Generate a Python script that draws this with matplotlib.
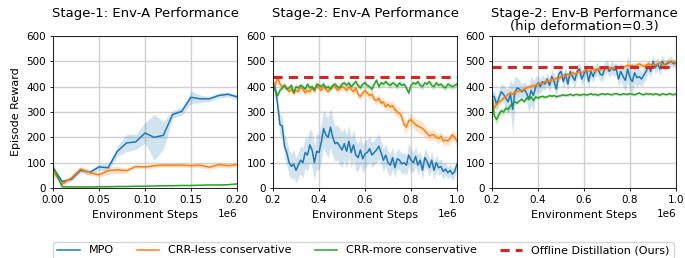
import numpy as np
import matplotlib
matplotlib.use("Agg")
import matplotlib.pyplot as plt
from matplotlib.lines import Line2D

# ---------------- data ----------------
steps_stage1 = [i * 0.01e6 for i in range(21)]
steps_stage2 = [0.2e6 + i * 0.01e6 for i in range(81)]

s1_mpo = [80, 25, 35, 70, 62, 83, 80, 145, 178, 182, 217, 200, 208, 290, 303, 358, 352, 352, 365, 370, 360]
s1_mpo_sd = [10, 10, 8, 10, 10, 12, 15, 20, 35, 30, 40, 90, 55, 15, 15, 25, 15, 10, 10, 10, 10]
s1_less = [65, 15, 40, 75, 60, 52, 68, 72, 68, 85, 83, 88, 90, 90, 90, 88, 90, 82, 92, 88, 92]
s1_less_sd = [20, 10, 10, 12, 10, 10, 15, 15, 10, 8, 8, 8, 8, 8, 8, 8, 10, 10, 10, 10, 8]
s1_more = [85, 5, 4, 4, 4, 5, 5, 6, 6, 7, 7, 8, 9, 9, 10, 10, 11, 12, 12, 13, 16]
s1_more_sd = [3, 2, 1, 1, 1, 1, 1, 1, 1, 1, 1, 1, 1, 1, 1, 1, 1, 1, 1, 1, 2]

a_mpo = [420, 390, 330, 250, 245, 165, 140, 100, 85, 95,
         70, 90, 110, 100, 140, 130, 170, 150, 100, 145,
         140, 180, 235, 210, 200, 240, 200, 175, 180, 165,
         150, 175, 145, 185, 140, 170, 130, 120, 150, 115,
         135, 140, 155, 130, 140, 150, 165, 140, 110, 130,
         100, 90, 120, 80, 115, 110, 95, 100, 90, 130,
         110, 100, 125, 90, 110, 70, 120, 105, 80, 110,
         70, 100, 80, 85, 65, 75, 60, 70, 55, 65,
         95]
a_mpo_sd = [10, 20, 30, 40, 40, 45, 50, 50, 50, 55,
            50, 50, 55, 60, 60, 65, 65, 70, 70, 70,
            70, 75, 75, 75, 80, 80, 75, 70, 70, 70,
            70, 65, 65, 65, 60, 60, 60, 55, 55, 55,
            55, 50, 50, 50, 50, 50, 50, 45, 45, 45,
            45, 45, 45, 40, 40, 40, 40, 40, 40, 45,
            45, 40, 40, 40, 35, 35, 35, 35, 35, 35,
            35, 30, 30, 30, 30, 25, 25, 25, 25, 20,
            20]
a_less = [420, 405, 440, 410, 400, 405, 395, 380, 390, 375,
          385, 380, 400, 390, 375, 385, 380, 395, 385, 405,
          395, 385, 400, 390, 380, 395, 405, 400, 385, 395,
          400, 395, 385, 400, 390, 380, 395, 370, 360, 375,
          385, 375, 365, 370, 350, 345, 355, 335, 340, 320,
          330, 320, 325, 310, 300, 295, 280, 250, 240, 265,
          270, 260, 250, 245, 240, 235, 225, 215, 205, 210,
          210, 200, 195, 205, 185, 190, 185, 195, 210, 200,
          185]
a_less_sd = [10, 12, 12, 12, 12, 12, 12, 12, 12, 12,
             12, 12, 12, 12, 12, 12, 12, 12, 12, 12,
             12, 12, 12, 12, 12, 12, 12, 12, 12, 12,
             14, 14, 14, 14, 14, 14, 15, 15, 15, 15,
             15, 15, 15, 15, 18, 18, 18, 18, 18, 18,
             20, 20, 20, 20, 20, 22, 22, 25, 25, 25,
             25, 25, 25, 25, 25, 25, 22, 22, 22, 22,
             20, 20, 20, 20, 20, 20, 20, 20, 20, 20,
             20]
a_more = [400, 385, 365, 385, 395, 405, 390, 395, 405, 375,
          400, 395, 405, 400, 390, 410, 395, 400, 385, 410,
          405, 400, 410, 395, 400, 390, 405, 410, 400, 395,
          410, 415, 405, 415, 400, 410, 420, 405, 395, 410,
          415, 405, 400, 390, 410, 425, 400, 415, 410, 420,
          410, 405, 415, 410, 400, 415, 405, 410, 395, 375,
          405, 415, 410, 420, 405, 400, 415, 410, 420, 405,
          400, 415, 405, 410, 400, 395, 410, 405, 400, 405,
          410]
a_more_sd = [12] * 81
a_offline = 438

b_mpo = [365, 360, 330, 355, 380, 370, 355, 340, 370, 310,
         380, 395, 390, 380, 390, 375, 350, 385, 365, 400,
         415, 400, 420, 410, 430, 405, 440, 420, 390, 450,
         460, 420, 450, 410, 460, 440, 425, 460, 470, 430,
         450, 470, 420, 460, 440, 465, 470, 450, 445, 470,
         480, 460, 475, 465, 470, 430, 460, 440, 425, 470,
         435, 420, 455, 435, 440, 430, 445, 460, 480, 460,
         500, 475, 490, 470, 500, 485, 490, 495, 500, 490,
         495]
b_mpo_sd = [15, 25, 30, 30, 30, 35, 40, 50, 60, 100,
            60, 40, 35, 30, 30, 35, 50, 60, 60, 40,
            30, 30, 30, 25, 25, 30, 30, 30, 35, 30,
            25, 30, 30, 30, 25, 25, 30, 25, 25, 30,
            25, 25, 30, 25, 25, 25, 25, 25, 25, 25,
            25, 25, 25, 25, 25, 30, 35, 40, 45, 50,
            50, 45, 40, 35, 30, 30, 30, 30, 25, 25,
            25, 25, 25, 25, 25, 20, 20, 20, 20, 15,
            15]
b_less = [370, 315, 330, 340, 345, 355, 360, 370, 375, 370,
          380, 380, 385, 385, 390, 395, 400, 400, 405, 405,
          410, 415, 410, 420, 425, 420, 430, 425, 435, 430,
          440, 445, 440, 450, 445, 455, 450, 455, 460, 455,
          460, 465, 460, 465, 470, 460, 470, 465, 470, 475,
          470, 475, 470, 475, 480, 475, 480, 475, 480, 485,
          480, 485, 480, 485, 490, 485, 480, 485, 490, 485,
          490, 485, 490, 495, 490, 485, 495, 500, 495, 500,
          490]
b_less_sd = [10] * 81
b_more = [360, 285, 270, 290, 305, 300, 315, 310, 325, 335,
          340, 335, 345, 350, 340, 355, 350, 360, 345, 360,
          355, 360, 362, 358, 360, 365, 362, 365, 360, 363,
          365, 368, 365, 367, 370, 365, 368, 370, 366, 368,
          370, 367, 369, 372, 368, 370, 366, 370, 372, 369,
          372, 370, 368, 371, 373, 370, 368, 372, 370, 369,
          373, 370, 368, 372, 375, 370, 368, 373, 370, 372,
          368, 372, 370, 366, 372, 370, 368, 373, 370, 368,
          372]
b_more_sd = [10, 20, 20, 18, 15, 15, 12, 12, 10, 10] + [6] * 71
b_offline = 478

labels = ["MPO", "CRR-less conservative", "CRR-more conservative", "Offline Distillation (Ours)"]
titles = ["Stage-1: Env-A Performance", "Stage-2: Env-A Performance",
          "Stage-2: Env-B Performance\n(hip deformation=0.3)"]

# ---------------- plot ----------------
C_MPO, C_LESS, C_MORE, C_OFF = "#1f77b4", "#ff7f0e", "#2ca02c", "#d62728"
TICK_FS = 7.5
LAB_FS = 8
TITLE_FS = 9.5
DASH = (0, (3, 2))

fig = plt.figure(figsize=(6.85, 2.58), dpi=100)
lefts = [53 / 685, 273 / 685, 492 / 685]
width = 184 / 685
bottom = 1 - 188 / 258
height = 152 / 258
axes = [fig.add_axes([l, bottom, width, height]) for l in lefts]

panels = [
    (steps_stage1, [(s1_mpo, s1_mpo_sd, C_MPO), (s1_less, s1_less_sd, C_LESS), (s1_more, s1_more_sd, C_MORE)], None),
    (steps_stage2, [(a_mpo, a_mpo_sd, C_MPO), (a_less, a_less_sd, C_LESS), (a_more, a_more_sd, C_MORE)], a_offline),
    (steps_stage2, [(b_mpo, b_mpo_sd, C_MPO), (b_less, b_less_sd, C_LESS), (b_more, b_more_sd, C_MORE)], b_offline),
]

for i, (ax, (x, series, off)) in enumerate(zip(axes, panels)):
    x = np.asarray(x)
    for y, sd, c in series:
        y = np.asarray(y, float); sd = np.asarray(sd, float)
        ax.fill_between(x, y - sd, y + sd, color=c, alpha=0.2, lw=0)
        ax.plot(x, y, color=c, lw=1.1)
    if off is not None:
        ax.axhline(off, color=C_OFF, lw=2.2, ls=DASH)
    ax.set_xlim(x[0], x[-1])
    ax.set_ylim(0, 600)
    ax.set_yticks(range(0, 601, 100))
    if i == 0:
        ax.set_xticks([0, 0.05e6, 0.10e6, 0.15e6, 0.20e6])
        ax.set_ylabel("Episode Reward", fontsize=LAB_FS, labelpad=4)
    else:
        ax.set_xticks([0.2e6, 0.4e6, 0.6e6, 0.8e6, 1.0e6])
    ax.ticklabel_format(axis="x", style="sci", scilimits=(6, 6))
    ax.set_xlabel("Environment Steps", fontsize=LAB_FS, labelpad=4)
    if "\n" in titles[i]:
        ax.set_title(titles[i], fontsize=TITLE_FS, pad=4, linespacing=1.0)
    else:
        ax.set_title(titles[i], fontsize=TITLE_FS, pad=13.8)
    ax.grid(True, color="#d0d0d0", lw=1.0)
    ax.set_axisbelow(True)
    ax.tick_params(labelsize=TICK_FS, length=2.5, width=0.6, pad=2.5)
    for s in ax.spines.values():
        s.set_linewidth(0.6)
    ax.xaxis.get_offset_text().set_fontsize(TICK_FS)

handles = [Line2D([], [], color=C_MPO, lw=1.1),
           Line2D([], [], color=C_LESS, lw=1.1),
           Line2D([], [], color=C_MORE, lw=1.1),
           Line2D([], [], color=C_OFF, lw=2.2, ls=DASH)]
fig.legend(handles, labels, loc="upper center", bbox_to_anchor=(363.5 / 685, 1 - 236 / 258),
           ncol=4, fontsize=LAB_FS, frameon=True, fancybox=True, edgecolor="#cccccc",
           handlelength=2.0, columnspacing=2.1, borderpad=0.35)

fig.savefig("out.png", dpi=100)
